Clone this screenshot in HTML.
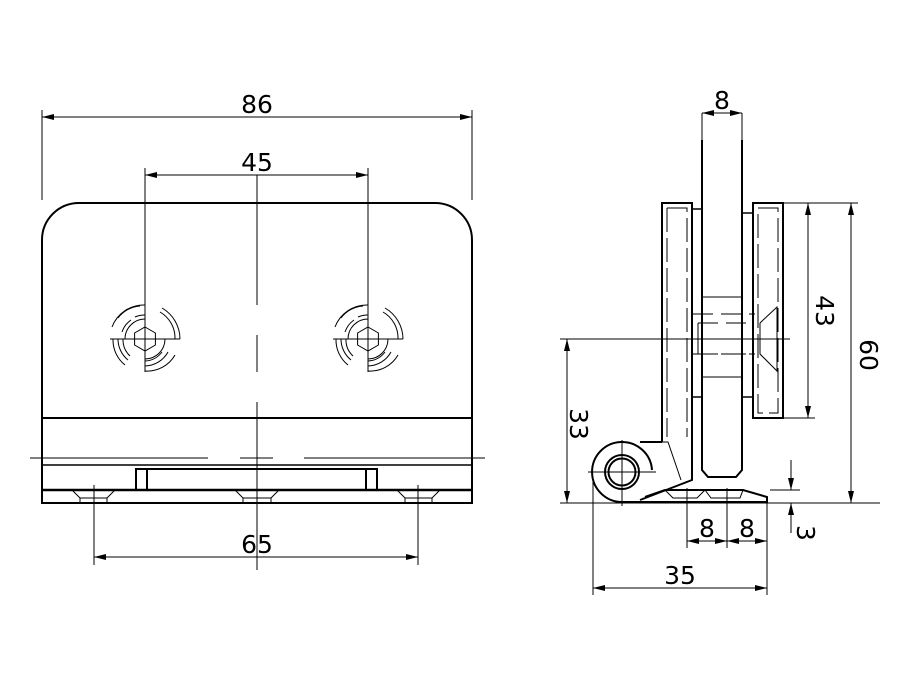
<!DOCTYPE html>
<html><head><style>body{margin:0;background:#fff}svg{display:block}text{font-family:"DejaVu Sans","Liberation Sans",sans-serif;font-size:25px;fill:#000}</style></head>
<body>
<svg width="900" height="700" viewBox="0 0 900 700" xmlns="http://www.w3.org/2000/svg">
<defs>
<marker id="a" viewBox="0 0 12 6" refX="12" refY="3" markerWidth="12" markerHeight="6" orient="auto-start-reverse" markerUnits="userSpaceOnUse"><path d="M0,0 L12,3 L0,6z" fill="#000"/></marker>
</defs>
<g fill="none" stroke="#000" stroke-width="1">
<!-- LEFT VIEW -->
<path d="M42,503 V240 A37,37 0 0 1 79,203 H435 A37,37 0 0 1 472,240 V503 Z" stroke-width="2"/>
<line x1="42" y1="418" x2="472" y2="418" stroke-width="2"/>
<line x1="42" y1="465" x2="472" y2="465" stroke-width="1.5"/>
<line x1="42" y1="490" x2="472" y2="490" stroke-width="2.5"/>
<path d="M136,490 V469 H377 V490 M147,469 V490 M366,469 V490" stroke-width="2"/>
<path d="M30,458 H208 M240,458 H273 M304,458 H485"/>
<!-- countersinks -->
<g>
<path d="M72,490 L80,498 H107 L115,490 M80,498 V503 M107,498 V503"/>
<path d="M235,490 L243,498 H271 L279,490 M243,498 V503 M271,498 V503"/>
<path d="M397,490 L405,498 H432 L440,490 M405,498 V503 M432,498 V503"/>
</g>
<!-- center lines -->
<path d="M94,485 V565 M257,175 V305 M257,335 V372 M257,402 V570 M418,485 V565"/>
<path d="M145,168 V372 M368,168 V372"/>
<!-- holes -->
<g id="h1">
<path d="M110,339 H180"/>
<polygon points="145,327 155.4,333 155.4,345 145,351 134.6,345 134.6,333"/>
<path d="M145,319 A20,20 0 0 0 125,339 M145,359 A20,20 0 0 0 165,339"/>
<path d="M135,317 A24,24 0 0 1 145,315 M122,332 A24,24 0 0 1 131,320"/>
<path d="M118,318 A30,30 0 0 1 140,306 M160,312 A30,30 0 0 1 175,339"/>
<path d="M112,327 A34,34 0 0 1 145,305 M162,308 A36,36 0 0 1 180,339"/>
<path d="M113,339 A32,32 0 0 0 125,365 M118,339 A27,27 0 0 0 128,360 M123,339 A22,22 0 0 0 130,356"/>
<path d="M145,371 A32,32 0 0 0 175,355 M145,366 A27,27 0 0 0 168,352 M145,361 A22,22 0 0 0 162,352"/>
</g>
<use href="#h1" transform="translate(223,0)"/>
<!-- dims left -->
<path d="M42,110 V200 M472,110 V200"/>
<line x1="42" y1="117" x2="472" y2="117" marker-start="url(#a)" marker-end="url(#a)"/>
<line x1="145" y1="175" x2="368" y2="175" marker-start="url(#a)" marker-end="url(#a)"/>
<line x1="94" y1="557" x2="418" y2="557" marker-start="url(#a)" marker-end="url(#a)"/>

<!-- RIGHT VIEW -->
<path d="M702,140 V470 L708,477 H736 L742,470 V140" stroke-width="2"/>
<path d="M702,113 V140 M742,113 V140"/>
<path d="M692,442 V203 H662 V442" stroke-width="2"/>
<path d="M667,208 H687 V437 M667,208 V437" stroke-dasharray="24,6"/>
<path d="M692,209 H702 M692,397 H702 M742,213 H753 M742,397 H753" stroke-width="1.5"/>
<rect x="753" y="203" width="30" height="215" stroke-width="2"/>
<path d="M758,208 H778 V413 H758 V208" stroke-dasharray="24,6"/>
<path d="M702,297 H742 M702,377 H742"/>
<path d="M693,314 H755 M693,354 H755 M698,323 H753 M698,354 H753" stroke-dasharray="20,8"/>
<path d="M698,323 V354 M760,323 L777,307 V371 L760,354 V323"/>
<line x1="560" y1="339" x2="790" y2="339"/>
<!-- knuckle -->
<path d="M662,442 L668,442 L681,480" />
<path d="M692,442 V480 L640,500" stroke-width="2"/>
<path d="M662,442 H640 M622,502 A30,30 0 1 1 652,470" stroke-width="2"/>
<circle cx="622" cy="472" r="17" stroke-width="2"/>
<circle cx="622" cy="472" r="13.5" stroke-width="2"/>
<path d="M588,472 H656 M622,440 V506"/>
<path d="M622,502 H767 V497 L743,490 H665 L645,497" stroke-width="2"/>
<path d="M665,490 L673,498 H697 L705,490 L711,498 H740 L743,490"/>
<!-- dims right -->
<line x1="702" y1="113" x2="742" y2="113" marker-start="url(#a)" marker-end="url(#a)"/>
<path d="M783,203 H858 M783,418 H815 M560,503 H880 M770,490 H800"/>
<line x1="808" y1="203" x2="808" y2="418" marker-start="url(#a)" marker-end="url(#a)"/>
<line x1="851" y1="203" x2="851" y2="503" marker-start="url(#a)" marker-end="url(#a)"/>
<line x1="567" y1="339" x2="567" y2="503" marker-start="url(#a)" marker-end="url(#a)"/>
<line x1="791" y1="460" x2="791" y2="490" marker-end="url(#a)"/>
<line x1="791" y1="533" x2="791" y2="503" marker-end="url(#a)"/>
<path d="M687,488 V548 M727,488 V548 M767,497 V595 M593,480 V595"/>
<line x1="687" y1="541" x2="727" y2="541" marker-start="url(#a)" marker-end="url(#a)"/>
<line x1="727" y1="541" x2="767" y2="541" marker-start="url(#a)" marker-end="url(#a)"/>
<line x1="593" y1="588" x2="767" y2="588" marker-start="url(#a)" marker-end="url(#a)"/>
</g>
<text x="257" y="113" text-anchor="middle">86</text>
<text x="257" y="171" text-anchor="middle">45</text>
<text x="257" y="553" text-anchor="middle">65</text>
<text x="722" y="109" text-anchor="middle">8</text>
<text x="707" y="537" text-anchor="middle">8</text>
<text x="747" y="537" text-anchor="middle">8</text>
<text x="680" y="584" text-anchor="middle">35</text>
<text transform="translate(816,311) rotate(90)" text-anchor="middle">43</text>
<text transform="translate(860,355) rotate(90)" text-anchor="middle">60</text>
<text transform="translate(570,424) rotate(90)" text-anchor="middle">33</text>
<text transform="translate(797,533) rotate(90)" text-anchor="middle">3</text>
</svg>
</body></html>
